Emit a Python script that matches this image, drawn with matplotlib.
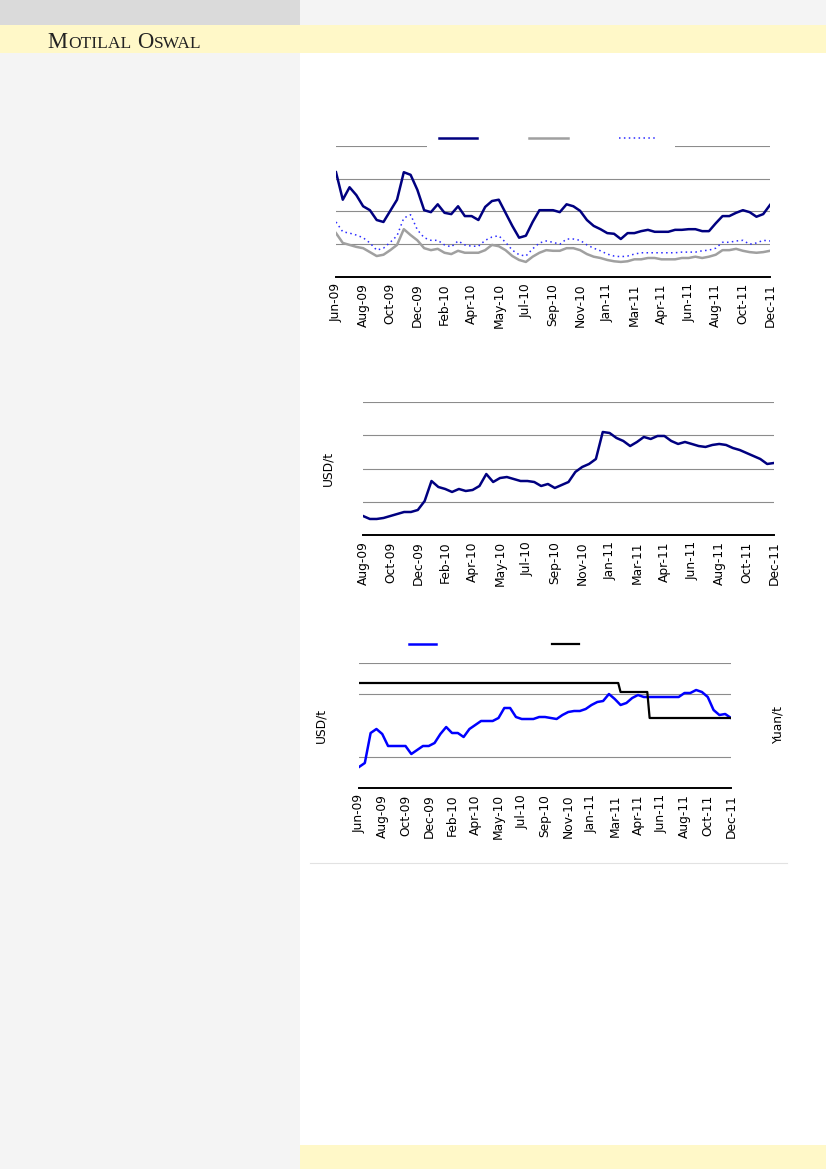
import numpy as np
import matplotlib
matplotlib.use("Agg")
import matplotlib.pyplot as plt
from matplotlib.patches import Rectangle
from matplotlib.lines import Line2D

W, H = 826, 1169
plt.rcParams['font.family'] = ['DejaVu Sans']

# ---- data -------------------------------------------------------------
months_a = ["Jun-09", "Aug-09", "Oct-09", "Dec-09", "Feb-10", "Apr-10", "May-10",
            "Jul-10", "Sep-10", "Nov-10", "Jan-11", "Mar-11", "Apr-11", "Jun-11",
            "Aug-11", "Oct-11", "Dec-11"]
months_b = ["Aug-09", "Oct-09", "Dec-09", "Feb-10", "Apr-10", "May-10", "Jul-10",
            "Sep-10", "Nov-10", "Jan-11", "Mar-11", "Apr-11", "Jun-11", "Aug-11",
            "Oct-11", "Dec-11"]

# chart 1 (fortnightly points)
navy_1 = [160, 118, 137, 125, 108, 102, 87, 84, 101, 118,
          160, 156, 133, 102, 99, 111, 98, 96, 108, 93,
          93, 87, 107, 116, 118, 98, 78, 60, 63, 84,
          102, 102, 102, 99, 111, 108, 101, 87, 78, 73,
          67, 66, 58, 67, 67, 70, 72, 69, 69, 69,
          72, 72, 73, 73, 70, 70, 82, 93, 93, 98,
          102, 99, 92, 96, 110]
gray_1 = [67, 52, 49, 46, 44, 38, 32, 34, 41, 49,
          73, 64, 56, 44, 41, 43, 37, 35, 40, 37,
          37, 37, 41, 49, 47, 41, 32, 26, 23, 31,
          37, 41, 40, 40, 44, 44, 41, 35, 31, 29,
          26, 24, 23, 24, 27, 27, 29, 29, 27, 27,
          27, 29, 29, 31, 29, 31, 34, 41, 41, 43,
          40, 38, 37, 38, 40]
dot_1 = [84, 69, 67, 64, 60, 52, 41, 44, 53, 63,
         90, 95, 72, 60, 56, 56, 49, 46, 55, 49,
         47, 47, 56, 61, 63, 53, 41, 34, 32, 43,
         52, 55, 53, 50, 58, 58, 56, 49, 44, 40,
         35, 32, 31, 32, 35, 37, 37, 37, 37, 37,
         37, 38, 38, 38, 40, 41, 44, 53, 53, 55,
         56, 50, 52, 56, 55]

# chart 2, USD/t
usd_2 = [286, 241, 241, 256, 286, 316, 346, 346, 376, 511,
         812, 722, 692, 647, 692, 662, 677, 737, 917, 797,
         857, 872, 842, 812, 812, 797, 737, 767, 707, 752,
         797, 948, 1023, 1068, 1143, 1549, 1534, 1459, 1414, 1338,
         1399, 1474, 1444, 1489, 1489, 1414, 1369, 1399, 1369, 1338,
         1324, 1354, 1369, 1354, 1308, 1278, 1233, 1188, 1143, 1068,
         1083]

# chart 3, USD/t (left) and Yuan/t (right, step series)
usd_3 = [336, 400, 880, 944, 864, 672, 672, 672, 672, 544,
         608, 672, 672, 720, 864, 976, 880, 880, 816, 944,
         1008, 1072, 1072, 1072, 1120, 1280, 1280, 1136, 1104, 1104,
         1104, 1136, 1136, 1120, 1104, 1168, 1216, 1232, 1232, 1264,
         1328, 1376, 1392, 1504, 1424, 1328, 1360, 1440, 1488, 1456,
         1456, 1456, 1456, 1456, 1456, 1456, 1520, 1520, 1568, 1536,
         1456, 1248, 1168, 1184, 1120]
yuan_x = [0, 44.6, 45, 49.6, 50, 64]
yuan_3 = [21000, 21000, 19200, 19200, 14000, 14000]


def box(l, t, r, b):
    return [l / W, 1 - b / H, (r - l) / W, (b - t) / H]


def base_axis(ax, n, labels, ymax, grid):
    step = (n - 1) / (len(labels) - 1)
    ax.set_xlim(0, n - 1)
    ax.set_ylim(0, ymax)
    ax.set_xticks(np.arange(len(labels)) * step)
    ax.set_xticklabels(labels, rotation=90, fontsize=8.8)
    ax.set_yticks(grid)
    ax.tick_params(axis='x', length=0, pad=4.5)
    ax.tick_params(axis='y', length=0, labelleft=False)
    ax.yaxis.grid(True, color='#8c8c8c', lw=0.8)
    ax.set_axisbelow(True)
    for s in ['top', 'left', 'right']:
        ax.spines[s].set_visible(False)
    ax.spines['bottom'].set_color('black')
    ax.spines['bottom'].set_linewidth(1.4)


fig = plt.figure(figsize=(W / 100, H / 100), dpi=100)

# page furniture
bg = [((0, 0, 300, 25), '#dadada'), ((300, 0, 826, 25), '#f4f4f4'),
      ((0, 25, 826, 53), '#fff8c8'), ((0, 53, 300, 1169), '#f4f4f4'),
      ((300, 1145, 826, 1169), '#fff8c8')]
for (l, t, r, b), c in bg:
    fig.add_artist(Rectangle((l / W, 1 - b / H), (r - l) / W, (b - t) / H,
                             transform=fig.transFigure, color=c, lw=0, zorder=-5))
fig.add_artist(Line2D([310 / W, 787 / W], [1 - 863 / H] * 2, transform=fig.transFigure,
                      color='#e2e2e2', lw=0.8))

# ---- chart 1 ----
ax1 = fig.add_axes(box(336, 146, 770, 277))
x1 = np.arange(len(navy_1))
l1, = ax1.plot(x1, navy_1, color='#000080', lw=1.8)
l2, = ax1.plot(x1, gray_1, color='#a0a0a0', lw=1.8)
l3, = ax1.plot(x1, dot_1, color='#2b2bff', lw=1.1, ls=(0, (1, 2.2)))
base_axis(ax1, len(navy_1), months_a, 200, [50, 100, 150, 200])
ax1.legend([l1, l2, l3], [' ', ' ', ' '], ncol=3, loc='center',
           bbox_to_anchor=(551 / W, 1 - 139 / H), bbox_transform=fig.transFigure,
           fontsize=8, handlelength=3.5, handletextpad=0.2, columnspacing=4.1,
           borderpad=1.0, frameon=True, fancybox=False, facecolor='white',
           edgecolor='none', framealpha=1)

# ---- chart 2 ----
ax2 = fig.add_axes(box(363, 402, 774, 535))
ax2.plot(np.arange(len(usd_2)), usd_2, color='#000080', lw=1.8)
base_axis(ax2, len(usd_2), months_b, 2000, [500, 1000, 1500, 2000])
ax2.set_ylabel('USD/t', fontsize=8.8)
ax2.yaxis.set_label_coords(-0.0706, 0.5)

# ---- chart 3 ----
ax3 = fig.add_axes(box(359, 663, 731, 788))
b1, = ax3.plot(np.arange(len(usd_3)), usd_3, color='#0000ff', lw=1.8)
base_axis(ax3, len(usd_3), months_a, 2000, [500, 1500, 2000])
ax3.set_ylabel('USD/t', fontsize=8.8)
ax3.yaxis.set_label_coords(-0.086, 0.5)
ax3r = ax3.twinx()
b2, = ax3r.plot(yuan_x, yuan_3, color='black', lw=1.6)
ax3r.set_ylim(0, 25000)
ax3r.set_yticks([])
for s in ax3r.spines.values():
    s.set_visible(False)
ax3r.set_ylabel('Yuan/t', fontsize=8.8)
ax3r.yaxis.set_label_coords(1.11, 0.5)
ax3.legend([b1, b2], [' ', ' '], ncol=2, loc='center',
           bbox_to_anchor=(497 / W, 1 - 645 / H), bbox_transform=fig.transFigure,
           fontsize=8, handlelength=2.43, handletextpad=0.2, columnspacing=9.9,
           borderpad=0.4, frameon=False)

# ---- header: small caps brand name ----
r = fig.canvas.get_renderer()
xpos = 47
for s, size, gap in [('M', 16.3, 0.5), ('OTILAL', 12.6, 0.5), ('O', 16.3, 6), ('SWAL', 12.6, 0.5)]:
    xpos += gap
    t = fig.text(xpos / W, 1 - 48 / H, s, fontsize=size, family='Liberation Serif',
                 color='#222222', ha='left', va='baseline')
    xpos = t.get_window_extent(renderer=r).x1

fig.savefig('out.png', dpi=100)
